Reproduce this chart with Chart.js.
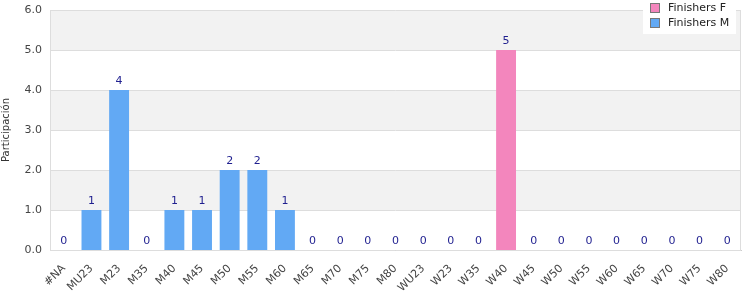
<!DOCTYPE html>
<html>
<head>
<meta charset="utf-8">
<script src="https://cdn.jsdelivr.net/npm/chart.js@4"></script>
<style>
  html, body { margin: 0; padding: 0; background: #fff; }
  #wrap { width: 750px; height: 300px; position: relative; }
</style>
</head>
<body>
<div id="wrap"><canvas id="chart"></canvas></div>
<script>
// datos
const categorias = ['#NA','MU23','M23','M35','M40','M45','M50','M55','M60','M65','M70','M75','M80',
  'WU23','W23','W35','W40','W45','W50','W55','W60','W65','W70','W75','W80'];
const finishersF = [0,0,0,0,0,0,0,0,0,0,0,0,0,0,0,0,5,0,0,0,0,0,0,0,0];
const finishersM = [0,1,4,0,1,1,2,2,1,0,0,0,0,0,0,0,0,0,0,0,0,0,0,0,0];
const yTicks = [0,1,2,3,4,5,6];

const FONT = "'DejaVu Sans', sans-serif";
const COL_F = '#f386bd';
const COL_M = '#62a9f4';

// bandas alternas + borde del area
const bandas = {
  id: 'bandas',
  beforeDatasetsDraw(chart) {
    const { ctx, chartArea: a, scales: { y } } = chart;
    ctx.save();
    for (let i = 0; i < yTicks.length - 1; i++) {
      if (i % 2 === 0) continue;
      const top = y.getPixelForValue(yTicks[i + 1]);
      const bot = y.getPixelForValue(yTicks[i]);
      ctx.fillStyle = '#f2f2f2';
      ctx.fillRect(a.left, top, a.right - a.left, bot - top);
    }
    ctx.strokeStyle = '#dddddd';
    ctx.lineWidth = 1;
    yTicks.forEach(v => {
      const py = Math.round(y.getPixelForValue(v)) + 0.5;
      ctx.beginPath(); ctx.moveTo(a.left, py); ctx.lineTo(a.right, py); ctx.stroke();
    });
    ctx.beginPath();
    ctx.moveTo(Math.round(a.left) + 0.5, a.top); ctx.lineTo(Math.round(a.left) + 0.5, a.bottom);
    ctx.moveTo(Math.round(a.right) - 0.5, a.top); ctx.lineTo(Math.round(a.right) - 0.5, a.bottom);
    ctx.stroke();
    ctx.restore();
  }
};

// totales encima de cada barra
const totales = {
  id: 'totales',
  afterDatasetsDraw(chart) {
    const { ctx, scales: { x, y } } = chart;
    ctx.save();
    ctx.font = '11px ' + FONT;
    ctx.fillStyle = '#1f1f8f';
    ctx.textAlign = 'center';
    ctx.textBaseline = 'bottom';
    categorias.forEach((c, i) => {
      const t = finishersF[i] + finishersM[i];
      ctx.fillText(String(t), x.getPixelForValue(i), y.getPixelForValue(t) - 3);
    });
    ctx.restore();
  }
};

// leyenda arriba a la derecha
const leyenda = {
  id: 'leyenda',
  afterDraw(chart) {
    const { ctx } = chart;
    const items = [['Finishers F', COL_F], ['Finishers M', COL_M]];
    ctx.save();
    ctx.fillStyle = '#ffffff';
    ctx.fillRect(643, 0, 93, 34);
    ctx.font = '11px ' + FONT;
    ctx.textBaseline = 'middle';
    ctx.textAlign = 'left';
    items.forEach((it, i) => {
      const cy = 8 + i * 15;
      ctx.fillStyle = it[1];
      ctx.fillRect(651, cy - 4, 8, 8);
      ctx.strokeStyle = '#777777';
      ctx.lineWidth = 1;
      ctx.strokeRect(650.5, cy - 4.5, 9, 9);
      ctx.fillStyle = '#222222';
      ctx.fillText(it[0], 668, cy);
    });
    ctx.restore();
  }
};

new Chart(document.getElementById('chart'), {
  type: 'bar',
  data: {
    labels: categorias,
    datasets: [
      { label: 'Finishers F', data: finishersF, backgroundColor: COL_F },
      { label: 'Finishers M', data: finishersM, backgroundColor: COL_M }
    ]
  },
  options: {
    responsive: true,
    maintainAspectRatio: false,
    animation: false,
    layout: { padding: { top: 10, right: 9, left: 0, bottom: 0 } },
    plugins: { legend: { display: false }, tooltip: { enabled: false } },
    scales: {
      x: {
        stacked: true,
        grid: { display: false },
        border: { color: '#cccccc' },
        ticks: {
          autoSkip: false, maxRotation: 45, minRotation: 45,
          color: '#444444', font: { family: FONT, size: 11 }, padding: 4
        },
        afterFit(s) { s.height = 50; s.paddingLeft = 0; s.paddingRight = 0; }
      },
      y: {
        stacked: true,
        min: 0, max: 6,
        grid: { display: false, drawTicks: false },
        border: { display: false },
        ticks: {
          stepSize: 1, color: '#444444', padding: 8,
          font: { family: FONT, size: 11 },
          callback: v => v.toFixed(1)
        },
        title: {
          display: true, text: 'Participación', color: '#333333',
          font: { family: FONT, size: 10 }, padding: 0
        },
        afterFit(s) { s.width = 50; s.paddingTop = 0; s.paddingBottom = 0; }
      }
    }
  },
  plugins: [bandas, totales, leyenda]
});
</script>
</body>
</html>
